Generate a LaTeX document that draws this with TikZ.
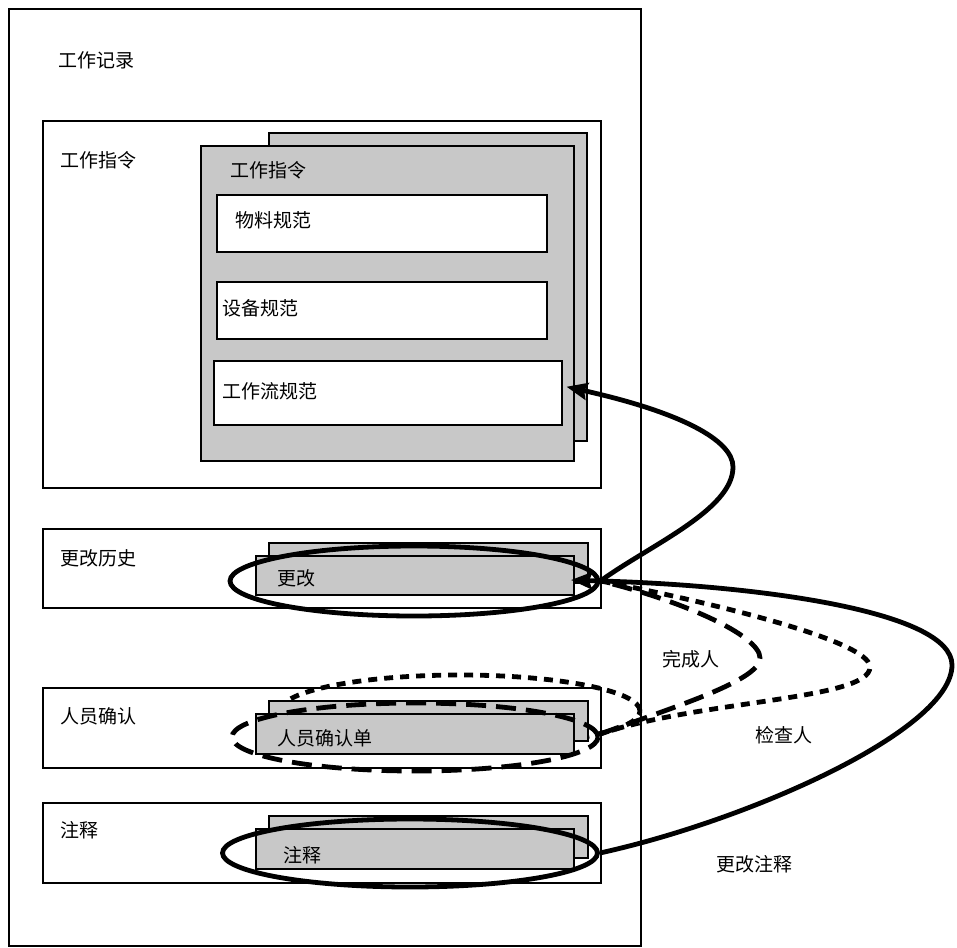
\documentclass[tikz,border=0pt]{standalone}
\usepackage{fontspec}
\setmainfont{Noto Sans CJK SC}
\usetikzlibrary{shapes.geometric,arrows.meta,calc}
\definecolor{cardgray}{RGB}{200,200,200}
\begin{document}
\begin{tikzpicture}[x=1pt,y=-1pt,
  box/.style={draw, line width=1.5pt, fill=white, inner sep=0pt, anchor=north west},
  card/.style={draw, line width=1.8pt, fill=cardgray, inner sep=0pt, anchor=north west},
  lbl/.style={anchor=west, inner sep=0pt, font=\fontsize{19pt}{22pt}\selectfont},
  ring/.style={ellipse, draw, line width=4.8pt, inner sep=0pt},
  thickcurve/.style={line width=4.8pt},
  longdash/.style={line width=4.8pt, dash pattern=on 20pt off 10pt},
  shortdash/.style={line width=4.8pt, dash pattern=on 9pt off 7pt},
  tips/.style={{Stealth[length=21pt,width=17pt,inset=3pt]}-{Stealth[length=21pt,width=17pt,inset=3pt]}}
]
\useasboundingbox (0,0) rectangle (957,947);
% outer frame
\node[box, line width=1.8pt, minimum width=632pt, minimum height=937pt] (frame) at (8,8) {};
% work instruction
\node[box, minimum width=558pt, minimum height=367pt] (wi) at (42,120) {};
\node[card, minimum width=318pt, minimum height=308pt] (wiback) at (268,132) {};
\node[card, minimum width=373pt, minimum height=315pt] (wifront) at (200,145) {};
\node[box, minimum width=330pt, minimum height=57pt] (mat) at (216,194) {};
\node[box, minimum width=330pt, minimum height=57pt] (eqp) at (216,281) {};
\node[box, minimum width=348pt, minimum height=64pt] (flow) at (213,360) {};
% history / confirmation / notes boxes
\node[box, minimum width=558pt, minimum height=79pt] (hist) at (42,528) {};
\node[box, minimum width=558pt, minimum height=80pt] (conf) at (42,687) {};
\node[box, minimum width=558pt, minimum height=80pt] (note) at (42,802) {};
% dotted ellipse (below the cards)
\node[ring, shortdash, minimum width=360pt, minimum height=72pt] (dotE) at (460,711) {};
% cards
\node[card, minimum width=319pt, minimum height=40pt] (histback) at (268,542) {};
\node[card, minimum width=318pt, minimum height=39pt] (histfront) at (255,555) {};
\node[card, minimum width=319pt, minimum height=40pt] (confback) at (268,700) {};
\node[card, minimum width=318pt, minimum height=40pt] (conffront) at (255,713) {};
\node[card, minimum width=319pt, minimum height=42pt] (noteback) at (268,815) {};
\node[card, minimum width=318pt, minimum height=40pt] (notefront) at (255,828) {};
% ellipses
\node[ring, minimum width=368pt, minimum height=70pt] (chgE) at (414,581) {};
\node[ring, longdash, minimum width=366pt, minimum height=68pt] (dashE) at (415,737) {};
\node[ring, minimum width=375pt, minimum height=68pt] (noteE) at (410,853) {};
% texts
\node[lbl] (t1) at (58,60) {工作记录};
\node[lbl] (t2) at (60,160) {工作指令};
\node[lbl] (t3) at (230,170) {工作指令};
\node[lbl] (t4) at (235,220) {物料规范};
\node[lbl] (t5) at (222,308) {设备规范};
\node[lbl] (t6) at (222,391) {工作流规范};
\node[lbl] (t7) at (60,558) {更改历史};
\node[lbl] (t8) at (277,578) {更改};
\node[lbl] (t9) at (60,716) {人员确认};
\node[lbl] (t10) at (277,738) {人员确认单};
\node[lbl] (t11) at (60,830) {注释};
\node[lbl] (t12) at (283,855) {注释};
\node[lbl] (t13) at (662,659) {完成人};
\node[lbl] (t14) at (755,735) {检查人};
\node[lbl] (t15) at (716,864) {更改注释};
% connectors
\coordinate (ftip) at ($(flow.east)+(4,-6)$);
\coordinate (ctip) at (571,580);
\coordinate (cstart) at (600,734);
\draw[thickcurve, tips] (ftip) .. controls (680,412) and (733,440) .. (733,467)
  .. controls (733,510) and (650,545) .. (chgE.east) -- (ctip);
\draw[thickcurve] (noteE.east) .. controls (750,820) and (952,730) .. (952,665)
  .. controls (952,610) and (750,585) .. (chgE.east);
\draw[longdash] (cstart) .. controls (680,705) and (760,680) .. (760,658)
  .. controls (760,635) and (680,600) .. (chgE.east);
\draw[shortdash] (cstart) .. controls (700,700) and (870,700) .. (870,667)
  .. controls (870,640) and (700,600) .. (chgE.east);
\end{tikzpicture}
\end{document}
